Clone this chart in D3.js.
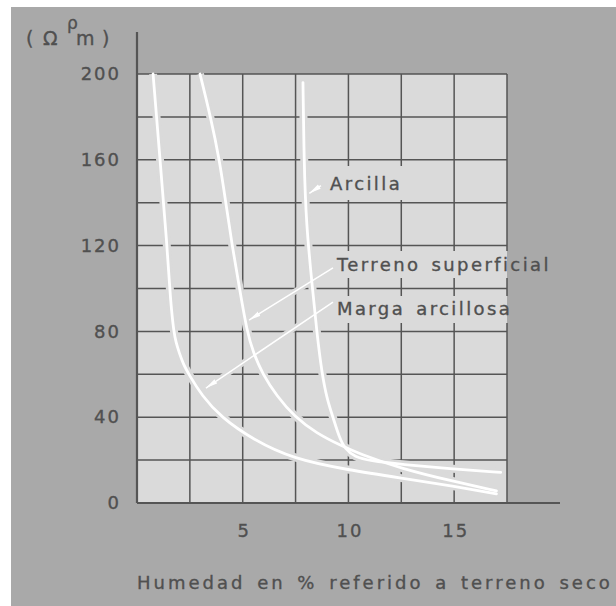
<!DOCTYPE html>
<html>
<head>
<meta charset="utf-8">
<script src="https://cdn.jsdelivr.net/npm/d3@7"></script>
<style>
	html, body { margin: 0; padding: 0; background: #fff; }
	svg { display: block; }
	text { font-family: 'DejaVu Sans', sans-serif; fill: #505050; stroke: #505050; stroke-width: 0.35px; }
</style>
</head>
<body>
<div id="viz"></div>
<script>
// curves: [humedad %, resistividad ohm.m]
const margaArcillosa = [[0.76, 200], [1.09, 160], [1.42, 120], [1.55, 100], [1.63, 90], [1.74, 80], [1.84, 75], [2.0, 70], [2.18, 65], [2.45, 60], [3.07, 50], [3.97, 40], [5.5, 29.5], [7.4, 20.5], [10, 15.4], [12.5, 11.6], [15, 7.8], [17, 4.3]];
const terrenoSuperficial = [[2.98, 200], [3.48, 180], [3.9, 160], [4.2, 140], [4.5, 120], [4.85, 100], [5.2, 80], [5.5, 70], [5.95, 60], [6.6, 50], [7.47, 40], [8.5, 32.5], [9.6, 27], [10.5, 23], [12.5, 16], [15, 10], [17, 5.6]];
const arcilla = [[7.85, 196], [7.9, 160], [8.0, 130], [8.3, 100], [8.5, 80], [8.75, 60], [9.0, 48], [9.27, 40], [9.55, 31], [9.85, 25], [10.3, 21.5], [11, 19.7], [12.5, 18], [15, 15.8], [17.2, 14.3]];

const seriesNames = ['Arcilla', 'Terreno superficial', 'Marga arcillosa'];
const xTicks = [5, 10, 15];
const yTicks = [0, 40, 80, 120, 160, 200];
const xGrid = [0, 2.5, 5, 7.5, 10, 12.5, 15, 17.5];
const yGrid = [0, 20, 40, 60, 80, 100, 120, 140, 160, 180, 200];

const width = 616, height = 606;
const bg = '#a9a9a9', plotBg = '#dadada', ink = '#555';

const svg = d3.select('#viz').append('svg')
	.attr('width', width)
	.attr('height', height);

// white strip on the top and left edge of the scan
svg.append('rect').attr('width', width).attr('height', height).attr('fill', '#fff');
svg.append('rect').attr('x', 11).attr('y', 7).attr('width', width - 11).attr('height', height - 7).attr('fill', bg);

const x = d3.scaleLinear().domain([0, 17.5]).range([137, 507]);
const y = d3.scaleLinear().domain([0, 200]).range([503, 74]);

svg.append('rect')
	.attr('x', x(0)).attr('y', y(200))
	.attr('width', x(17.5) - x(0)).attr('height', y(0) - y(200))
	.attr('fill', plotBg);

// grid
const grid = svg.append('g').attr('stroke', ink).attr('stroke-width', 1.5);
grid.selectAll('.vg').data(xGrid).enter().append('line')
	.attr('x1', d => x(d)).attr('x2', d => x(d))
	.attr('y1', y(0)).attr('y2', y(200));
grid.selectAll('.hg').data(yGrid).enter().append('line')
	.attr('x1', x(0)).attr('x2', x(17.5))
	.attr('y1', d => y(d)).attr('y2', d => y(d));

// main axis lines, longer than the grid
svg.append('line').attr('x1', x(0)).attr('x2', x(0)).attr('y1', 32).attr('y2', y(0))
	.attr('stroke', ink).attr('stroke-width', 2.2);
svg.append('line').attr('x1', x(0)).attr('x2', 560).attr('y1', y(0)).attr('y2', y(0))
	.attr('stroke', ink).attr('stroke-width', 2.2);

// tick labels
const xAxis = svg.append('g')
	.attr('transform', 'translate(0,' + y(0) + ')')
	.call(d3.axisBottom(x).tickValues(xTicks).tickSize(0).tickPadding(21));
const yAxis = svg.append('g')
	.attr('transform', 'translate(' + x(0) + ',0)')
	.call(d3.axisLeft(y).tickValues(yTicks).tickSize(0).tickPadding(18));
[xAxis, yAxis].forEach(a => {
	a.select('.domain').remove();
	a.selectAll('text')
		.attr('font-family', null)
		.attr('fill', null)
		.style('font-size', '18px')
		.style('letter-spacing', '2px');
});
yAxis.selectAll('text').attr('dx', '2px');
xAxis.selectAll('text').attr('dx', '1px');

// label boxes hide the grid behind the text
const labels = [
	{ name: seriesNames[0], tx: 9.13, ty: 146, box: [325, 166, 100, 34], from: [8.7, 148], to: [8.15, 144.4] },
	{ name: seriesNames[1], tx: 9.46, ty: 108, box: [333, 251, 174, 27], from: [9.27, 109.6], to: [5.3, 85.3] },
	{ name: seriesNames[2], tx: 9.46, ty: 87.8, box: [333, 296, 174, 27], from: [9.27, 93.7], to: [3.26, 53.6] }
];
svg.selectAll('.lbox').data(labels).enter().append('rect')
	.attr('x', d => d.box[0]).attr('y', d => d.box[1])
	.attr('width', d => d.box[2]).attr('height', d => d.box[3])
	.attr('fill', plotBg);
// the right border is broken next to the long labels too
svg.selectAll('.rbox').data(labels.slice(1)).enter().append('rect')
	.attr('x', x(17.5)).attr('y', d => d.box[1])
	.attr('width', 3).attr('height', d => d.box[3])
	.attr('fill', bg);

const line = d3.line()
	.x(d => x(d[0]))
	.y(d => y(d[1]))
	.curve(d3.curveBasis);

const curves = [arcilla, terrenoSuperficial, margaArcillosa];

svg.append('defs').append('marker')
	.attr('id', 'head')
	.attr('markerUnits', 'userSpaceOnUse')
	.attr('viewBox', '0 0 12 6')
	.attr('refX', 12).attr('refY', 3)
	.attr('markerWidth', 12).attr('markerHeight', 6)
	.attr('orient', 'auto')
	.append('path')
	.attr('d', 'M0,0.5 L12,3 L0,5.5 Z')
	.attr('fill', '#fff');

// halos first so grid lines break where the curves cross them
svg.append('g').selectAll('path').data(curves).enter().append('path')
	.attr('d', line).attr('fill', 'none')
	.attr('stroke', plotBg).attr('stroke-width', 8);
svg.append('g').selectAll('line').data(labels).enter().append('line')
	.attr('x1', d => x(d.from[0])).attr('y1', d => y(d.from[1]))
	.attr('x2', d => x(d.to[0])).attr('y2', d => y(d.to[1]))
	.attr('stroke', plotBg).attr('stroke-width', 6);

svg.append('g').selectAll('path').data(curves).enter().append('path')
	.attr('d', line).attr('fill', 'none')
	.attr('stroke', '#fff').attr('stroke-width', 2.8)
	.attr('stroke-linecap', 'round');

svg.append('g').selectAll('line').data(labels).enter().append('line')
	.attr('x1', d => x(d.from[0])).attr('y1', d => y(d.from[1]))
	.attr('x2', d => x(d.to[0])).attr('y2', d => y(d.to[1]))
	.attr('stroke', '#fff').attr('stroke-width', 1.5)
	.attr('marker-end', 'url(#head)');

svg.append('g').selectAll('text').data(labels).enter().append('text')
	.attr('x', d => x(d.tx)).attr('y', d => y(d.ty))
	.style('font-size', '18px')
	.style('letter-spacing', '2.4px')
	.style('word-spacing', '3px')
	.text(d => d.name);

// y title ( Ω m ) with rho above
const yTitle = svg.append('g').style('font-size', '19px');
yTitle.append('text').attr('x', 26).attr('y', 45).text('(');
yTitle.append('text').attr('x', 43).attr('y', 45).text('Ω');
yTitle.append('text').attr('x', 76).attr('y', 45).text('m');
yTitle.append('text').attr('x', 102).attr('y', 45).text(')');
yTitle.append('text').attr('x', 67).attr('y', 29).style('font-size', '17px').text('ρ');

svg.append('text')
	.attr('x', 137).attr('y', 589)
	.style('font-size', '18px')
	.style('letter-spacing', '3px')
	.style('word-spacing', '3px')
	.text('Humedad en % referido a terreno seco');
</script>
</body>
</html>
